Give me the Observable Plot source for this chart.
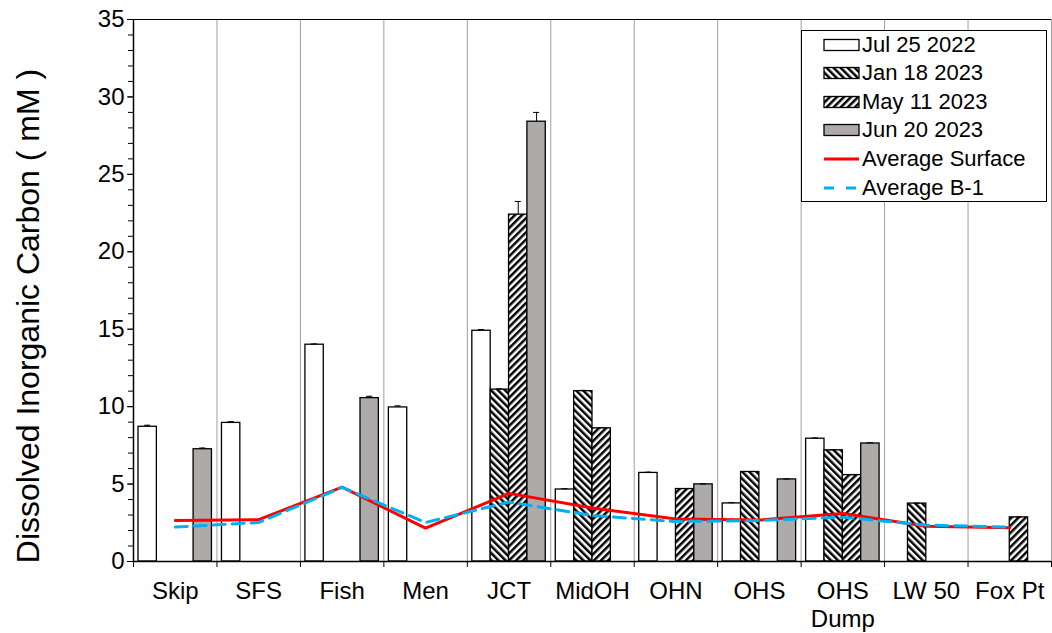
<!DOCTYPE html>
<html>
<head>
<meta charset="utf-8">
<script src="https://cdn.jsdelivr.net/npm/d3@7"></script>
<script src="https://cdn.jsdelivr.net/npm/@observablehq/plot@0.6"></script>
<style>
  body { margin: 0; background: #fff; }
  #wrap { position: relative; width: 1052px; height: 633px; font-family: "Liberation Sans", Arial, sans-serif; }
  #ytitle { position: absolute; left: 28px; top: 316px; transform: translate(-50%, -50%) rotate(-90deg); white-space: nowrap; font-size: 32px; line-height: 1; color: #000; }
  #legend { position: absolute; left: 801px; top: 30px; width: 246px; height: 172px; border: 1px solid #000; background: #fff; box-sizing: border-box; }
  .row { position: absolute; left: 21px; height: 26px; display: flex; align-items: center; font-size: 22px; color: #000; }
  .row svg { margin-right: 2px; }
</style>
</head>
<body>
<div id="wrap">
  <div id="chart"></div>
  <div id="ytitle">Dissolved Inorganic Carbon ( mM )</div>
  <div id="legend"></div>
</div>
<script>
// ---- data ----
const categories = ["Skip", "SFS", "Fish", "Men", "JCT", "MidOH", "OHN", "OHS", "OHS\nDump", "LW 50", "Fox Pt"];
const seriesNames = ["Jul 25 2022", "Jan 18 2023", "May 11 2023", "Jun 20 2023"];
const jul2022 = [8.7, 8.95, 14.0, 9.95, 14.9, 4.65, 5.72, 3.75, 7.93, null, null];
const jan2023 = [null, null, null, null, 11.1, 11.0, null, 5.78, 7.18, 3.74, null];
const may2023 = [null, null, null, null, 22.4, 8.6, 4.68, null, 5.58, null, 2.85];
const jun2023 = [7.25, null, 10.55, null, 28.4, null, 4.98, 5.3, 7.62, null, null];
const jul2022Err = [0.1, 0.08, 0.05, 0.1, 0.08, 0.05, 0.05, 0.05, 0.05, null, null];
const jan2023Err = [null, null, null, null, 0.05, 0.05, null, 0.03, 0.03, 0.03, null];
const may2023Err = [null, null, null, null, 0.85, 0.05, 0.03, null, 0.03, null, 0.03];
const jun2023Err = [0.08, null, 0.12, null, 0.6, null, 0.03, 0.03, 0.05, null, null];
const avgSurface = [2.65, 2.7, 4.8, 2.15, 4.4, 3.45, 2.75, 2.68, 3.1, 2.28, 2.18];
const avgB1 = [2.22, 2.52, 4.78, 2.52, 3.84, 2.97, 2.58, 2.65, 2.86, 2.35, 2.22];
const yTicks = [0, 5, 10, 15, 20, 25, 30, 35];

// ---- build ----
const seriesValues = [jul2022, jan2023, may2023, jun2023];
const seriesErrs = [jul2022Err, jan2023Err, may2023Err, jun2023Err];
const fills = ["white", "url(#hatchBack)", "url(#hatchFwd)", "#aeaaaa"];
const pad = 0.06, bw = 0.22;
const rows = [];
seriesValues.forEach((arr, s) => arr.forEach((v, i) => {
  if (v != null) rows.push({cat: i, s, v, e: seriesErrs[s][i] || 0});
}));
const x1 = d => d.cat + pad + d.s * bw;
const xc = d => x1(d) + bw / 2;

const NS = "http://www.w3.org/2000/svg";
function makePattern(id, angle) {
  const p = document.createElementNS(NS, "pattern");
  p.setAttribute("id", id);
  p.setAttribute("patternUnits", "userSpaceOnUse");
  p.setAttribute("width", "5");
  p.setAttribute("height", "5");
  p.setAttribute("patternTransform", `rotate(${angle})`);
  const bg = document.createElementNS(NS, "rect");
  bg.setAttribute("width", "5"); bg.setAttribute("height", "5"); bg.setAttribute("fill", "white");
  const st = document.createElementNS(NS, "rect");
  st.setAttribute("width", "2.5"); st.setAttribute("height", "5"); st.setAttribute("fill", "black");
  p.appendChild(bg); p.appendChild(st);
  return p;
}
function defs(suffix) {
  const d = document.createElementNS(NS, "defs");
  d.appendChild(makePattern("hatchBack" + suffix, -45));
  d.appendChild(makePattern("hatchFwd" + suffix, 45));
  return d;
}

const marks = [
  () => defs(""),
  Plot.ruleX(d3.range(1, 12), {y1: 0, y2: 35, stroke: "#a0a0a0", strokeWidth: 1}),
  ...seriesValues.map((_, s) => Plot.rect(rows.filter(d => d.s === s), {
    x1: x1, x2: d => x1(d) + bw, y1: 0, y2: "v",
    fill: fills[s], stroke: "black", strokeWidth: 1.3
  })),
  Plot.ruleX(rows.filter(d => d.e > 0), {x: xc, y1: "v", y2: d => d.v + d.e, stroke: "black", strokeWidth: 1}),
  Plot.ruleY(rows.filter(d => d.e > 0), {y: d => d.v + d.e, x1: d => xc(d) - 0.037, x2: d => xc(d) + 0.037, stroke: "black", strokeWidth: 1}),
  Plot.line(avgSurface, {x: (d, i) => i + 0.5, y: d => d, stroke: "#ff0000", strokeWidth: 3, strokeLinejoin: "miter"}),
  Plot.line(avgB1, {x: (d, i) => i + 0.5, y: d => d, stroke: "#00b0f0", strokeWidth: 3, strokeDasharray: "12,7"}),
  Plot.ruleY([0], {stroke: "black", strokeWidth: 1.5}),
  Plot.ruleY([35], {stroke: "black", strokeWidth: 1.2}),
  Plot.ruleX([0], {stroke: "black", strokeWidth: 1.5}),
  Plot.axisY({ticks: d3.range(0, 36, 1), tickSize: 5, tickFormat: () => "", label: null}),
  Plot.axisY({ticks: yTicks, tickSize: 6, tickPadding: 3, fontSize: 24, label: null}),
  Plot.axisX({ticks: d3.range(0, 12), tickSize: 6, tickFormat: () => "", label: null}),
  Plot.axisX({ticks: categories.map((c, i) => i + 0.5), tickSize: 0, tickPadding: 18,
    tickFormat: v => categories[Math.floor(v)], fontSize: 24, lineHeight: 1.15, label: null})
];

const chart = Plot.plot({
  width: 1052, height: 633,
  marginLeft: 133, marginRight: 1, marginTop: 19, marginBottom: 72,
  style: {fontFamily: "'Liberation Sans', Arial, sans-serif", fontSize: "24px", background: "white", color: "black"},
  x: {type: "linear", domain: [0, 11]},
  y: {domain: [0, 35]},
  marks
});
document.getElementById("chart").appendChild(chart);

// ---- legend ----
const legend = document.getElementById("legend");
const legendFills = ["white", "url(#hatchBackL)", "url(#hatchFwdL)", "#aeaaaa"];
const legendItems = [
  ...seriesNames.map((n, s) => ({name: n, type: "rect", fill: legendFills[s]})),
  {name: "Average Surface", type: "line", stroke: "#ff0000", dash: null},
  {name: "Average B-1", type: "line", stroke: "#00b0f0", dash: "10,12"}
];
legendItems.forEach((it, i) => {
  const row = document.createElement("div");
  row.className = "row";
  row.style.top = (13.5 + i * 28.6 - 13) + "px";
  const sw = document.createElementNS(NS, "svg");
  sw.setAttribute("width", "37"); sw.setAttribute("height", "14");
  if (i === 0) sw.appendChild(defs("L"));
  if (it.type === "rect") {
    const r = document.createElementNS(NS, "rect");
    r.setAttribute("x", "1"); r.setAttribute("y", "1.5"); r.setAttribute("width", "35"); r.setAttribute("height", "11");
    r.setAttribute("fill", it.fill); r.setAttribute("stroke", "black"); r.setAttribute("stroke-width", "1.3");
    sw.appendChild(r);
  } else {
    const l = document.createElementNS(NS, "line");
    l.setAttribute("x1", "1"); l.setAttribute("x2", "36"); l.setAttribute("y1", "7"); l.setAttribute("y2", "7");
    l.setAttribute("stroke", it.stroke); l.setAttribute("stroke-width", "3");
    if (it.dash) l.setAttribute("stroke-dasharray", it.dash);
    sw.appendChild(l);
  }
  row.appendChild(sw);
  const t = document.createElement("span");
  t.textContent = it.name;
  row.appendChild(t);
  legend.appendChild(row);
});
</script>
</body>
</html>
